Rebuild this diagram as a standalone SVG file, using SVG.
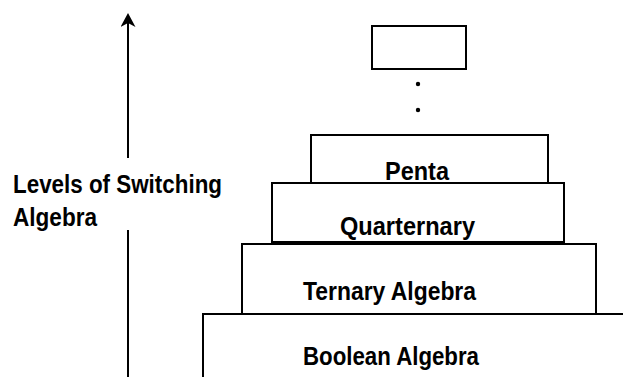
<svg xmlns="http://www.w3.org/2000/svg" width="623" height="377" viewBox="0 0 623 377">
<style>
.box{fill:#fff;stroke:#000;stroke-width:2}
.t{font-family:"Liberation Sans",Arial,sans-serif;font-weight:bold;font-size:25px;fill:#000}
.ln{stroke:#000;stroke-width:2;fill:none}
</style>
<defs>
<marker id="ah" markerWidth="14" markerHeight="15" refX="12" refY="7.5" orient="auto" markerUnits="userSpaceOnUse" viewBox="0 0 14 15">
<path d="M14,7.5 L0,0 L4,7.5 L0,15 Z" fill="#000"/>
</marker>
</defs>
<rect width="623" height="377" fill="#fff"/>
<g id="connectors">
<line class="ln" x1="128" y1="158" x2="128" y2="15" marker-end="url(#ah)"/>
<line class="ln" x1="128" y1="230" x2="128" y2="377"/>
</g>
<g id="axis-label">
<text class="t" x="13" y="193" textLength="209" lengthAdjust="spacingAndGlyphs">Levels of Switching</text>
<text class="t" x="13" y="226" textLength="84" lengthAdjust="spacingAndGlyphs">Algebra</text>
</g>
<g id="top-box">
<rect class="box" x="372" y="26" width="94" height="43"/>
</g>
<g id="dots">
<circle cx="418" cy="84" r="2.2" fill="#000"/>
<circle cx="418" cy="110" r="2.2" fill="#000"/>
</g>
<g id="penta">
<rect class="box" x="311" y="135" width="237" height="48"/>
<text class="t" x="385" y="180" textLength="64" lengthAdjust="spacingAndGlyphs">Penta</text>
</g>
<g id="quarternary">
<rect class="box" x="272" y="183" width="292" height="59"/>
<text class="t" x="340" y="235" textLength="135" lengthAdjust="spacingAndGlyphs">Quarternary</text>
</g>
<g id="ternary">
<rect class="box" x="242" y="244" width="354" height="70"/>
<text class="t" x="303" y="300" textLength="173" lengthAdjust="spacingAndGlyphs">Ternary Algebra</text>
</g>
<g id="boolean">
<rect class="box" x="203" y="314" width="430" height="80"/>
<text class="t" x="303" y="365" textLength="176" lengthAdjust="spacingAndGlyphs">Boolean Algebra</text>
</g>
</svg>
